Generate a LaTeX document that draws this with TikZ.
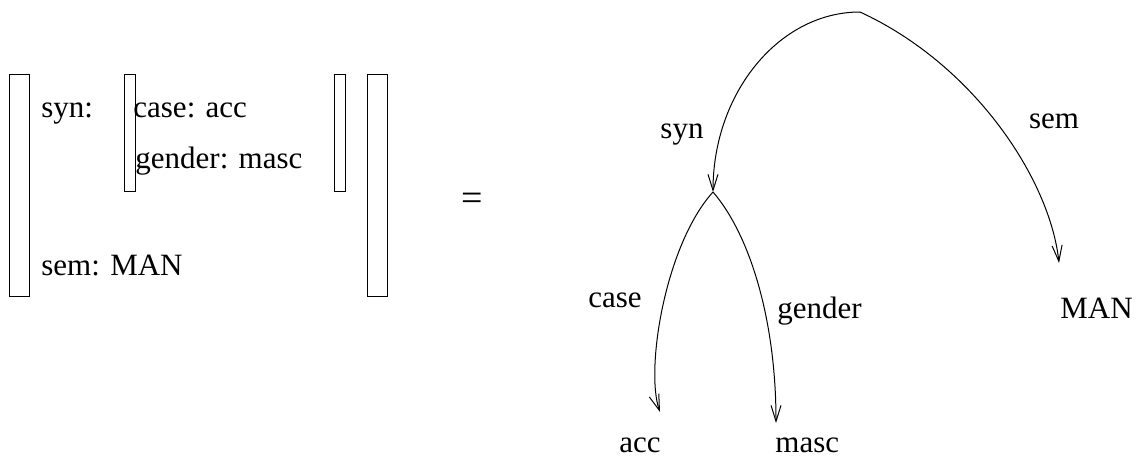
\documentclass[tikz,border=0pt]{standalone}
\usepackage{fontspec}
\setmainfont{Liberation Serif}
\usetikzlibrary{arrows.meta,positioning}

\begin{document}
\begin{tikzpicture}[
  x=0.5pt, y=-0.5pt,
  font=\fontsize{15.5}{18}\selectfont,
  txt/.style={inner sep=0pt, anchor=base west},
  lbl/.style={inner sep=0pt, anchor=base},
  brk/.style={draw, line width=0.5pt},
  arc/.style={-{Straight Barb[length=8pt, width=5pt]}, line width=0.5pt}
]
  \useasboundingbox (0,0) rectangle (1143,460);

  % feature structure
  \draw[brk] (9,75) rectangle (29,296);
  \draw[brk] (124,75) rectangle (135,191);
  \draw[brk] (334,75) rectangle (345,191);
  \draw[brk] (367,75) rectangle (387,296);
  \node[txt] (synf) at (41,117) {syn:};
  \node[txt] (casef) at (133,117) {case: acc};
  \node[txt] (genderf) at (135,168) {gender: masc};
  \node[txt] (semf) at (41,275) {sem: MAN};

  \node[font=\fontsize{19}{22}\selectfont] (eq) at (472,202) {=};

  % graph
  \coordinate (top) at (860,12);
  \coordinate (mid) at (713,192);
  \coordinate (tacc) at (660,412);
  \coordinate (tmasc) at (776,423);
  \coordinate (tman) at (1059,263);

  \node[inner sep=0pt, anchor=base east] (acc) at (661,452) {acc};
  \node[txt] (masc) at (775,452) {masc};
  \node[txt] (man) at (1060,318) {MAN};

  \draw[arc] (top) .. controls (779,12) and (713,93) .. (mid);
  \draw[arc] (top) .. controls (975,65) and (1050,180) .. (tman);
  \draw[arc] (mid) .. controls (665,245) and (645,370) .. (tacc);
  \draw[arc] (mid) .. controls (750,235) and (776,320) .. (tmasc);

  \node[lbl] (synl) at (682,138) {syn};
  \node[lbl] (seml) at (1054,128) {sem};
  \node[lbl] (casel) at (615,307) {case};
  \node[txt] (genderl) at (777,318) {gender};
\end{tikzpicture}
\end{document}
